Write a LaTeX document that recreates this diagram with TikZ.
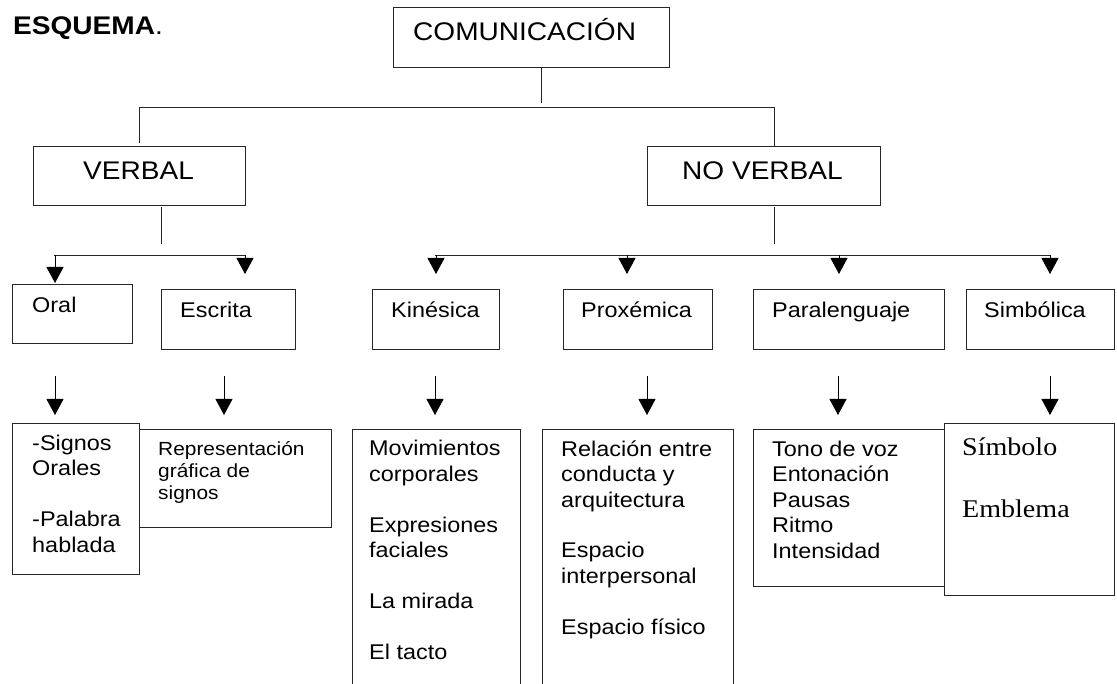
\documentclass[tikz,border=0pt]{standalone}
\usepackage{fontspec}
\setmainfont{Liberation Sans}[FakeStretch=1.1]
\newfontfamily\timesf{Liberation Serif}[FakeStretch=1.1]
\usetikzlibrary{arrows.meta}
\newcommand\mkbox[5]{\node[box, anchor=north west, minimum width={#4-#2}, minimum height={#5-#3}, inner sep=0pt, outer sep=0pt] (#1) at (#2,#3) {};}
\begin{document}
\begin{tikzpicture}[x=1pt,y=-1pt,
  box/.style={draw=black!85, line width=0.9pt, fill=white},
  lbl/.style={anchor=base west, inner sep=0pt, align=left},
  bigf/.style={font=\fontsize{25.5}{30}\selectfont},
  midf/.style={font=\fontsize{21.3}{25.4}\selectfont},
  smallf/.style={font=\fontsize{19}{22}\selectfont},
  serf/.style={font=\timesf\fontsize{25.5}{31}\selectfont},
  ln/.style={draw=black!85, line width=0.9pt},
  arr/.style={draw=black, line width=0.9pt, -{Triangle[width=17pt,length=16pt]}}]
\useasboundingbox (0,0) rectangle (1117,684);
\clip (0,0) rectangle (1117,684);
% title
\node[lbl, bigf] (title) at (13,35) {\textbf{ESQUEMA}.};
% level 1
\mkbox{com}{393}{7}{669}{67}
\node[lbl, bigf] (tcom) at (413,41) {COMUNICACIÓN};
% level 2
\mkbox{verbal}{33}{146}{245}{205}
\node[lbl, bigf] (tverbal) at (83,180) {VERBAL};
\mkbox{noverbal}{647}{146}{880}{205}
\node[lbl, bigf] (tnoverbal) at (682,180) {NO VERBAL};
% level 3
\mkbox{oral}{12}{284}{132}{343}
\node[lbl, midf] (toral) at (32,313) {Oral};
\mkbox{escrita}{161}{289}{295}{349}
\node[lbl, midf] (tescrita) at (180,318) {Escrita};
\mkbox{kin}{372}{289}{499}{349}
\node[lbl, midf] (tkin) at (391,318) {Kinésica};
\mkbox{prox}{563}{289}{712}{349}
\node[lbl, midf] (tprox) at (581,318) {Proxémica};
\mkbox{para}{753}{289}{944}{349}
\node[lbl, midf] (tpara) at (772,318) {Paralenguaje};
\mkbox{simb}{966}{289}{1114}{349}
\node[lbl, midf] (tsimb) at (984,318) {Simbólica};
% level 4 (text anchors at the baseline of the last line)
\mkbox{lesc}{139}{429}{331}{527}
\node[lbl, smallf] (tlesc) at (158,500) {Representación\\gráfica de\\signos};
\mkbox{loral}{12}{423}{139}{574}
\node[lbl, midf] (tloral) at (32,552) {-Signos\\Orales\\[25.4pt]-Palabra\\hablada};
\mkbox{lkin}{352}{429}{520}{720}
\node[lbl, midf] (tlkin) at (369,659) {Movimientos\\corporales\\[25.4pt]Expresiones\\faciales\\[25.4pt]La mirada\\[25.4pt]El tacto};
\mkbox{lprox}{542}{429}{733}{720}
\node[lbl, midf] (tlprox) at (561,634) {Relación entre\\conducta y\\arquitectura\\[25.4pt]Espacio\\interpersonal\\[25.4pt]Espacio físico};
\mkbox{lpara}{753}{429}{944}{586}
\node[lbl, midf] (tlpara) at (772,558) {Tono de voz\\Entonación\\Pausas\\Ritmo\\Intensidad};
\mkbox{lsimb}{944}{423}{1114}{595}
\node[lbl, serf] (tlsimb) at (962,517) {Símbolo\\[31pt]Emblema};
% x positions of connectors
\coordinate (xc) at (541,0);
\coordinate (xv) at (139,0);
\coordinate (xnv) at (774,0);
\coordinate (xvs) at (161,0);
\coordinate (xo) at (55,0);
\coordinate (xe) at (245,0);
\coordinate (xe2) at (224,0);
\coordinate (xk) at (436,0);
\coordinate (xk2) at (435,0);
\coordinate (xp) at (627,0);
\coordinate (xp2) at (647,0);
\coordinate (xpa) at (839,0);
\coordinate (xpa2) at (838,0);
\coordinate (xs) at (1050,0);
% connectors level 1 -> 2
\draw[ln] (com.south -| xc) -- (541,103);
\draw[ln, shorten <=3pt] (verbal.north -| xv) -- (139,107) -- (774,107) -- (noverbal.north -| xnv);
% stems and bars
\draw[ln, shorten <=2pt] (verbal.south -| xvs) -- (161,244);
\draw[ln, shorten <=2pt] (noverbal.south -| xnv) -- (774,244);
\coordinate (vbarL) at (54,255);
\coordinate (vbarR) at (246,255);
\coordinate (nbarL) at (435,255);
\coordinate (nbarR) at (1050,255);
\draw[ln] (vbarL) -- (vbarR);
\draw[ln] (nbarL) -- (nbarR);
% arrows level 2 -> 3
\draw[arr, shorten >=1pt] (55,255) -- (oral.north -| xo);
\draw[arr, shorten >=15pt] (245,255) -- (escrita.north -| xe);
\draw[arr, shorten >=15pt] (436,255) -- (kin.north -| xk);
\draw[arr, shorten >=15pt] (627,255) -- (prox.north -| xp);
\draw[arr, shorten >=15pt] (839,255) -- (para.north -| xpa);
\draw[arr, shorten >=15pt] (1050,255) -- (simb.north -| xs);
% arrows level 3 -> 4
\coordinate (a1) at (55,376);
\coordinate (a2) at (224,376);
\coordinate (a3) at (435,376);
\coordinate (a4) at (647,376);
\coordinate (a5) at (838,376);
\coordinate (a6) at (1050,376);
\draw[arr, shorten >=8pt] (a1) -- (loral.north -| xo);
\draw[arr, shorten >=14pt] (a2) -- (lesc.north -| xe2);
\draw[arr, shorten >=14pt] (a3) -- (lkin.north -| xk2);
\draw[arr, shorten >=14pt] (a4) -- (lprox.north -| xp2);
\draw[arr, shorten >=14pt] (a5) -- (lpara.north -| xpa2);
\draw[arr, shorten >=8pt] (a6) -- (lsimb.north -| xs);
\end{tikzpicture}
\end{document}
